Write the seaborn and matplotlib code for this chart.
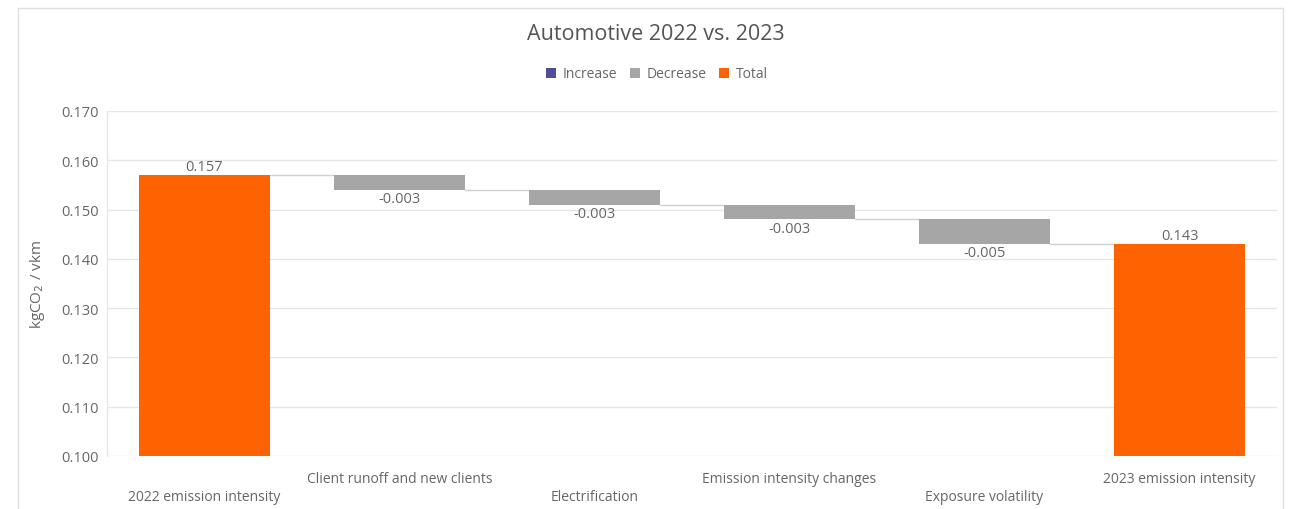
import matplotlib
matplotlib.use("Agg")
import matplotlib.pyplot as plt
from matplotlib.patches import Rectangle
from matplotlib.lines import Line2D
import seaborn as sns
import pandas as pd

# Waterfall steps for automotive emission intensity
categories = [
    "2022 emission intensity",
    "Client runoff and new clients",
    "Electrification",
    "Emission intensity changes",
    "Exposure volatility",
    "2023 emission intensity",
]
start_value = 0.157
changes = [-0.003, -0.003, -0.003, -0.005]
end_value = 0.143
step_kinds = ["Total", "Decrease", "Decrease", "Decrease", "Decrease", "Total"]

kind_colors = {"Increase": "#4f4f99", "Decrease": "#a6a6a6", "Total": "#ff6200"}
text_color = "#666666"
grid_color = "#e6e6e6"

# Running levels and the floating span of each bar
levels = [start_value]
for c in changes:
    levels.append(round(levels[-1] + c, 6))
bottoms = [0.0] + [min(levels[i], levels[i + 1]) for i in range(len(changes))] + [0.0]
spans = [start_value] + [abs(c) for c in changes] + [end_value]
tops = [b + s for b, s in zip(bottoms, spans)]
labels = [f"{start_value:.3f}"] + [f"{c:.3f}" for c in changes] + [f"{end_value:.3f}"]

df = pd.DataFrame({"step": categories, "span": spans, "kind": step_kinds})

sns.set_theme(style="white")
plt.rcParams["font.family"] = ["Open Sans", "DejaVu Sans"]

fig = plt.figure(figsize=(13.12, 5.10), dpi=100)
ax = fig.add_axes([107 / 1312, 53 / 510, 1170 / 1312, 345 / 510])

sns.barplot(
    data=df, x="step", y="span", hue="step", order=categories, hue_order=categories,
    palette=[kind_colors[k] for k in step_kinds], width=0.67, legend=False,
    saturation=1, ax=ax, zorder=3,
)
# Lift each bar to float between its start and end level
for patch, b in zip(ax.patches, bottoms):
    patch.set_y(b)
    patch.set_linewidth(0)

ax.set_ylim(0.100, 0.170)
ax.set_xlim(-0.5, len(categories) - 0.5)
ax.set_yticks([0.100 + 0.010 * i for i in range(8)])
ax.yaxis.set_major_formatter(matplotlib.ticker.FormatStrFormatter("%.3f"))
ax.yaxis.grid(True, color=grid_color, linewidth=1, zorder=0)
ax.xaxis.grid(False)
for side in ["top", "right", "bottom"]:
    ax.spines[side].set_visible(False)
ax.spines["left"].set_color(grid_color)
ax.spines["left"].set_linewidth(1)
ax.tick_params(axis="y", length=0, pad=6, labelsize=10.5, labelcolor=text_color)

# Staggered category labels: even positions on the lower row, odd on the upper
ax.set_xticks([i for i in range(len(categories)) if i % 2 == 0])
ax.set_xticklabels([categories[i] for i in range(len(categories)) if i % 2 == 0])
ax.set_xticks([i for i in range(len(categories)) if i % 2 == 1], minor=True)
ax.set_xticklabels([categories[i] for i in range(len(categories)) if i % 2 == 1], minor=True)
ax.tick_params(axis="x", which="major", length=0, pad=24, labelsize=10, labelcolor=text_color)
ax.tick_params(axis="x", which="minor", length=0, pad=10.5, labelsize=10, labelcolor=text_color)
ax.set_xlabel("")
ax.set_ylabel("kgCO$_2$ / vkm", fontsize=11, color=text_color, labelpad=10)

# Connector lines between consecutive bars
half = 0.67 / 2
for i in range(len(categories) - 1):
    ax.plot([i + half, i + 1 - half], [levels[i], levels[i]], color="#d0d0d0",
            linewidth=1, zorder=2)

# Value labels: totals above the bar, changes below it
for i, (kind, lab) in enumerate(zip(step_kinds, labels)):
    if kind == "Total":
        ax.annotate(lab, (i, tops[i]), xytext=(0, 1), textcoords="offset points",
                    ha="center", va="bottom", fontsize=10.5, color=text_color)
    else:
        ax.annotate(lab, (i, bottoms[i]), xytext=(0, -1), textcoords="offset points",
                    ha="center", va="top", fontsize=10.5, color=text_color)

fig.suptitle("Automotive 2022 vs. 2023", y=1 - 35 / 510, va="center",
             fontsize=15.5, color="#555555")

handles = [Line2D([], [], marker="s", linestyle="", markersize=7.5,
                  markerfacecolor=kind_colors[k], markeredgewidth=0, label=k)
           for k in ["Increase", "Decrease", "Total"]]
fig.legend(handles=handles, loc="center", bbox_to_anchor=(0.5, 1 - 75 / 510), ncol=3,
           frameon=False, fontsize=10, labelcolor=text_color, handletextpad=0.3,
           columnspacing=0.8, handlelength=1.0)

# Outer chart frame
fig.patches.append(Rectangle((18 / 1312, -0.02), 1265 / 1312, 1.02 - 9 / 510,
                             transform=fig.transFigure, fill=False,
                             edgecolor="#e0e0e0", linewidth=1))

fig.savefig("out.png", dpi=100)
